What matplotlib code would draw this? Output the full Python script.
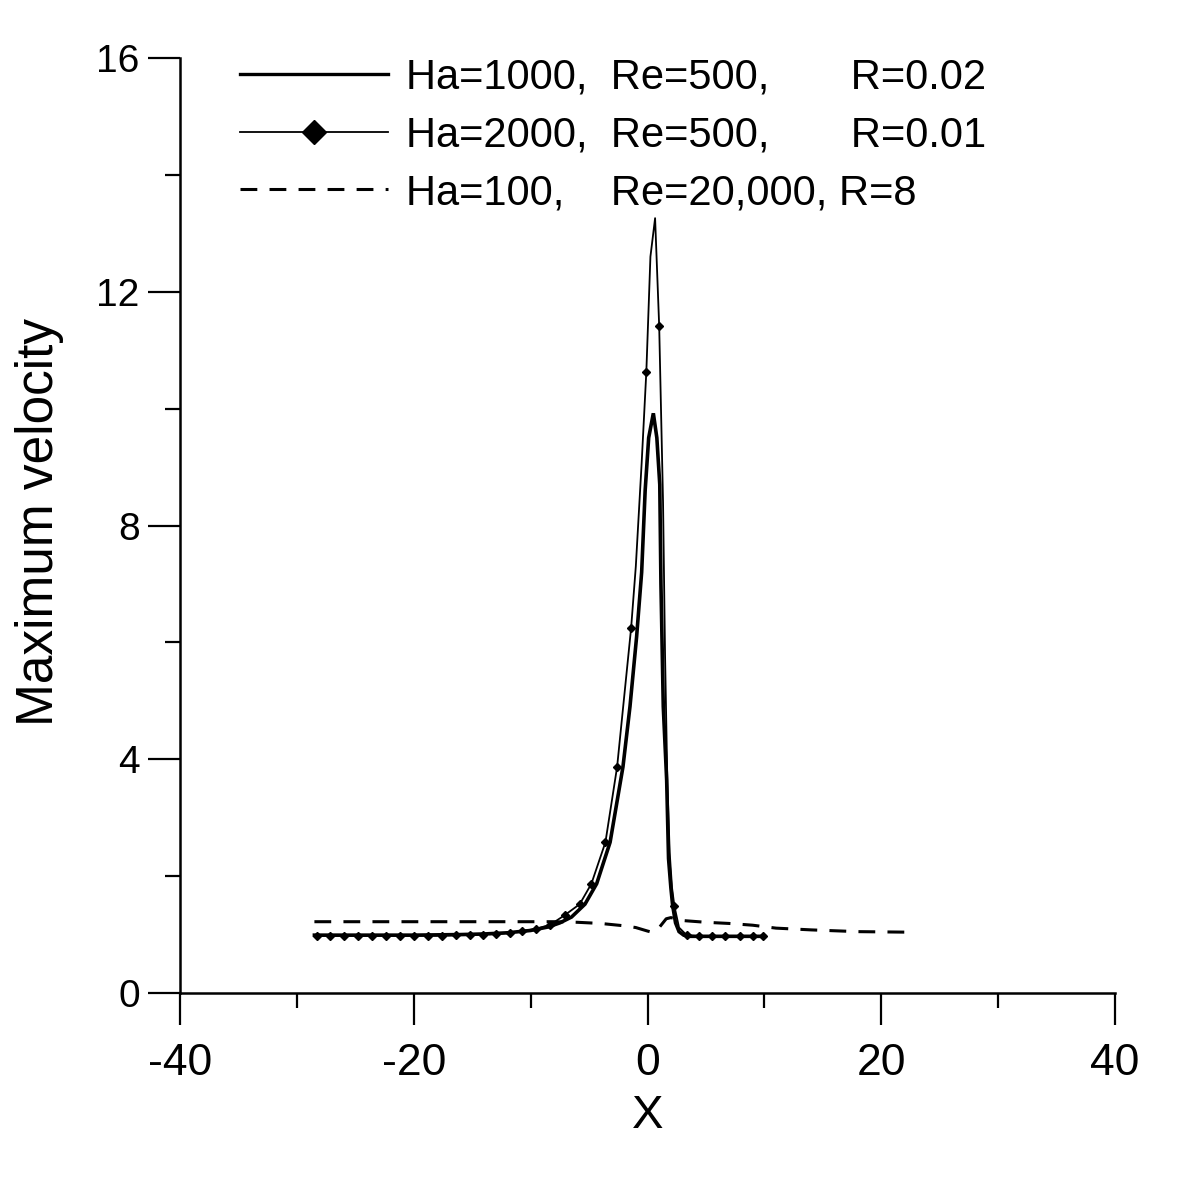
import matplotlib
matplotlib.use("Agg")
import matplotlib.pyplot as plt
from matplotlib.lines import Line2D
from matplotlib.ticker import MultipleLocator
import numpy as np

plt.rcParams['font.family'] = ['Liberation Sans', 'DejaVu Sans']
plt.rcParams['axes.unicode_minus'] = False

# Ha=1000, Re=500, R=0.02 (thick solid)
ha1000_x = [-28.5, -24, -20, -16, -14, -12, -10, -8.5, -7.5, -6.5, -5.35, -4.35, -3.2, -2.1, -1.5,
            -0.93, -0.5, -0.2, 0.1, 0.5, 0.8, 1.05, 1.15, 1.35, 1.64, 1.8, 2.0, 2.15, 2.4, 2.7, 3.1,
            3.6, 6, 10]
ha1000_y = [0.99, 0.99, 0.99, 1.0, 1.01, 1.03, 1.07, 1.13, 1.2, 1.3, 1.52, 1.87, 2.58, 3.87, 4.9,
            6.1, 7.2, 8.6, 9.5, 9.92, 9.5, 8.7, 7.0, 4.9, 3.64, 2.3, 1.8, 1.5, 1.2, 1.05, 0.99,
            0.97, 0.97, 0.97]

# Ha=2000, Re=500, R=0.01 (thin solid with markers)
ha2000_mark_x = [-28.3, -27.2, -26.0, -24.8, -23.6, -22.4, -21.2, -20.0, -18.8, -17.6, -16.4, -15.2,
                 -14.1, -13.0, -11.8, -10.7, -9.5, -8.3, -7.1, -5.8, -4.8, -3.6, -2.6, -1.4, -0.1,
                 1.0, 2.3, 3.35, 4.4, 5.5, 6.6, 7.9, 9.05, 9.9]
ha2000_mark_y = [0.98, 0.98, 0.98, 0.98, 0.98, 0.98, 0.98, 0.98, 0.98, 0.98, 0.99, 0.99,
                 1.00, 1.01, 1.03, 1.06, 1.10, 1.17, 1.33, 1.52, 1.87, 2.58, 3.87, 6.25, 10.63,
                 11.41, 1.49, 0.99, 0.97, 0.97, 0.97, 0.97, 0.97, 0.97]
ha2000_line_x = [-1.0, -0.5, 0.25, 0.65, 1.33, 1.5, 1.7, 1.9, 2.1, 2.7]
ha2000_line_y = [7.3, 9.07, 12.6, 13.26, 8.4, 5.8, 3.6, 2.4, 1.8, 1.12]

# Ha=100, Re=20,000, R=8 (dashed)
ha100_x = [-28.5, -20, -12, -8, -6, -4, -2, -1, 0, 0.4, 1.0, 1.6, 2.0, 3.0, 5, 7, 9, 11, 14, 18, 22.8]
ha100_y = [1.22, 1.22, 1.22, 1.22, 1.21, 1.19, 1.15, 1.12, 1.06, 1.04, 1.12, 1.27, 1.29, 1.24, 1.21,
           1.19, 1.16, 1.11, 1.08, 1.05, 1.04]

labels = ["Ha=1000,  Re=500,       R=0.02",
          "Ha=2000,  Re=500,       R=0.01",
          "Ha=100,    Re=20,000, R=8"]
x_label = "X"
y_label = "Maximum velocity"

fig = plt.figure(figsize=(12, 11.79), dpi=100)
ax = fig.add_axes([0.15, 1 - 993 / 1179, 935 / 1200, 935 / 1179])

ax.plot(ha1000_x, ha1000_y, color='black', lw=2.6, solid_joinstyle='miter')

lx = np.array(ha2000_mark_x + ha2000_line_x)
ly = np.array(ha2000_mark_y + ha2000_line_y)
order = np.argsort(lx)
ax.plot(lx[order], ly[order], color='black', lw=1.3)
ax.plot(ha2000_mark_x, ha2000_mark_y, ls='none', marker='D', ms=3.8, color='black')

ax.plot(ha100_x, ha100_y, color='black', lw=2.2, ls=(0, (5.5, 4.0)))

ax.set_xlim(-40, 40)
ax.set_ylim(0, 16)
ax.xaxis.set_major_locator(MultipleLocator(20))
ax.xaxis.set_minor_locator(MultipleLocator(10))
ax.yaxis.set_major_locator(MultipleLocator(4))
ax.yaxis.set_minor_locator(MultipleLocator(2))

for s in ['top', 'right']:
    ax.spines[s].set_visible(False)
for s in ['left', 'bottom']:
    ax.spines[s].set_linewidth(1.8)

ax.tick_params(which='major', direction='out', length=23, width=1.6)
ax.tick_params(which='minor', direction='out', length=11, width=1.6)
ax.tick_params(axis='x', which='major', labelsize=32, pad=13)
ax.tick_params(axis='y', which='major', labelsize=28, pad=6)

ax.set_xlabel(x_label, fontsize=34)
ax.xaxis.set_label_coords(0.5, -0.108)
ax.xaxis.label.set_va('top')
ax.set_ylabel(y_label, fontsize=37)
ax.yaxis.set_label_coords(-0.124, 0.504)

handles = [Line2D([], [], color='black', lw=2.4),
           Line2D([], [], color='black', lw=1.3, marker='D', ms=12),
           Line2D([], [], color='black', lw=2.2, ls=(0, (5.5, 4.0)))]
ax.legend(handles, labels, loc='upper left', bbox_to_anchor=(0.064, 1.0),
          frameon=False, fontsize=30, handlelength=3.55, handletextpad=0.43,
          labelspacing=0.42, borderpad=0, borderaxespad=0)

fig.savefig("out.png", dpi=100, facecolor='white')
